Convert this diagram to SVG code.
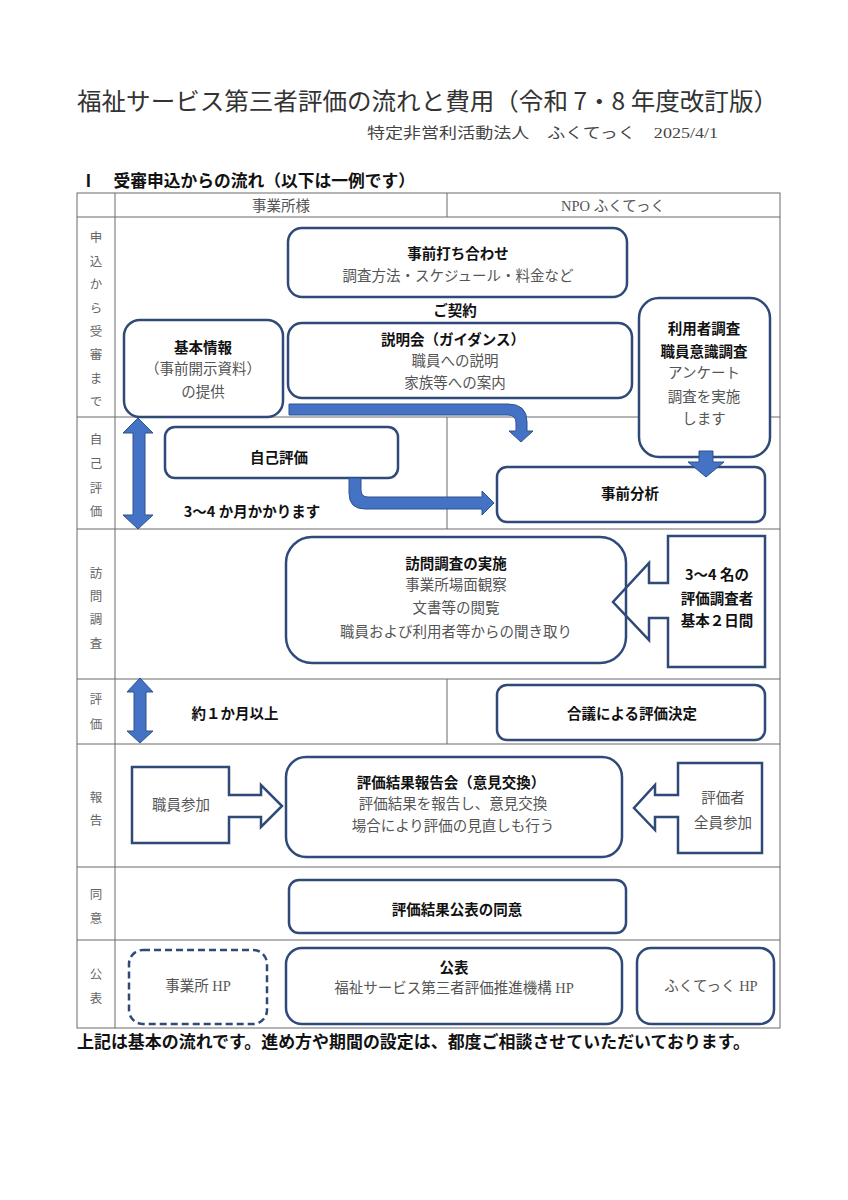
<svg xmlns="http://www.w3.org/2000/svg" width="848" height="1200" viewBox="0 0 848 1200">
<style>
.grid{stroke:#6b6b6b;stroke-width:1;fill:none}
.box{fill:#fff;stroke:#2f4a78;stroke-width:2.5}
.call{fill:none;stroke:#2f4a78;stroke-width:2.5}
.dash{fill:#fff;stroke:#2f4a78;stroke-width:2.5;stroke-dasharray:7 4}
.blk{fill:#4472c4;stroke:#2f528f;stroke-width:1}
.b{font-family:"Noto Sans CJK JP",sans-serif;font-weight:700;font-size:14.5px;fill:#111;text-anchor:middle;dominant-baseline:central}
.n{font-family:"Liberation Serif","Noto Sans CJK JP",serif;font-weight:400;font-size:14.5px;fill:#555;text-anchor:middle;dominant-baseline:central}
.v{font-family:"Noto Sans CJK JP",sans-serif;font-size:12.5px;fill:#666;text-anchor:middle;dominant-baseline:central}
</style>
<rect width="848" height="1200" fill="#fff"/>
<g id="title">
<text x="77" y="110" font-family="Noto Sans CJK JP,sans-serif" font-size="24" fill="#333" textLength="701" lengthAdjust="spacingAndGlyphs">福祉サービス第三者評価の流れと費用（令和 7・8 年度改訂版）</text>
<text x="367" y="138" font-family="Liberation Serif,Noto Sans CJK JP,serif" font-size="15" fill="#444" textLength="351" lengthAdjust="spacingAndGlyphs">特定非営利活動法人　ふくてっく　2025/4/1</text>
<text x="80" y="187" font-family="Noto Sans CJK JP,sans-serif" font-weight="700" font-size="16.5" fill="#111" textLength="335" lengthAdjust="spacingAndGlyphs">Ⅰ　受審申込からの流れ（以下は一例です）</text>
</g>
<g id="table">
<rect class="grid" x="77" y="193" width="703" height="835" stroke="#555"/>
<line class="grid" x1="115" y1="193" x2="115" y2="1028"/>
<line class="grid" x1="77" y1="217" x2="780" y2="217"/>
<line class="grid" x1="77" y1="417" x2="780" y2="417"/>
<line class="grid" x1="77" y1="529" x2="780" y2="529"/>
<line class="grid" x1="77" y1="679" x2="780" y2="679"/>
<line class="grid" x1="77" y1="744" x2="780" y2="744"/>
<line class="grid" x1="77" y1="867" x2="780" y2="867"/>
<line class="grid" x1="77" y1="940" x2="780" y2="940"/>
<line class="grid" x1="447" y1="193" x2="447" y2="217"/>
<line class="grid" x1="447" y1="417" x2="447" y2="529"/>
<line class="grid" x1="447" y1="679" x2="447" y2="744"/>
<text class="n" x="281" y="206" font-size="14">事業所様</text>
<text class="n" x="613" y="206" font-size="14">NPO ふくてっく</text>
<text class="v" x="96"><tspan x="96" y="236">申</tspan><tspan x="96" y="260">込</tspan><tspan x="96" y="283">か</tspan><tspan x="96" y="307">ら</tspan><tspan x="96" y="330">受</tspan><tspan x="96" y="353">審</tspan><tspan x="96" y="377">ま</tspan><tspan x="96" y="400">で</tspan></text>
<text class="v" x="96"><tspan x="96" y="438">自</tspan><tspan x="96" y="462">己</tspan><tspan x="96" y="487">評</tspan><tspan x="96" y="510">価</tspan></text>
<text class="v" x="96"><tspan x="96" y="572">訪</tspan><tspan x="96" y="595">問</tspan><tspan x="96" y="618">調</tspan><tspan x="96" y="642">査</tspan></text>
<text class="v" x="96"><tspan x="96" y="698">評</tspan><tspan x="96" y="723">価</tspan></text>
<text class="v" x="96"><tspan x="96" y="796">報</tspan><tspan x="96" y="819">告</tspan></text>
<text class="v" x="96"><tspan x="96" y="893">同</tspan><tspan x="96" y="917">意</tspan></text>
<text class="v" x="96"><tspan x="96" y="973">公</tspan><tspan x="96" y="997">表</tspan></text>
</g>
<g id="n-uchiawase">
<rect class="box" x="288" y="228" width="339" height="69" rx="14"/>
<text class="b" x="458" y="252">事前打ち合わせ</text>
<text class="n" x="458" y="276">調査方法・スケジュール・料金など</text>
</g>
<g id="n-keiyaku">
<text class="b" x="455" y="309">ご契約</text>
</g>
<g id="n-setsumeikai">
<rect class="box" x="288" y="323" width="344" height="75" rx="14"/>
<text class="b" x="453" y="338">説明会（ガイダンス）</text>
<text class="n" x="455" y="361">職員への説明</text>
<text class="n" x="455" y="383">家族等への案内</text>
</g>
<g id="n-kihon">
<rect class="box" x="124" y="320" width="159" height="97" rx="16"/>
<text class="b" x="203" y="346">基本情報</text>
<text class="n" x="203" y="369">（事前開示資料）</text>
<text class="n" x="203" y="392">の提供</text>
</g>
<g id="n-riyousha">
<rect class="box" x="639" y="298" width="131" height="159" rx="20"/>
<text class="b" x="704" y="327">利用者調査</text>
<text class="b" x="704" y="350">職員意識調査</text>
<text class="n" x="704" y="373">アンケート</text>
<text class="n" x="704" y="397">調査を実施</text>
<text class="n" x="704" y="419">します</text>
</g>
<g id="n-jiko">
<rect class="box" x="165" y="427" width="233" height="51" rx="10"/>
<text class="b" x="279" y="456">自己評価</text>
</g>
<g id="n-jizen">
<rect class="box" x="497" y="467" width="268" height="55" rx="10"/>
<text class="b" x="630" y="492">事前分析</text>
</g>
<g id="n-period1">
<text class="b" x="252" y="510">3〜4 か月かかります</text>
</g>
<g id="n-houmon">
<rect class="box" x="286" y="537" width="340" height="126" rx="26"/>
<text class="b" x="456" y="562">訪問調査の実施</text>
<text class="n" x="456" y="585">事業所場面観察</text>
<text class="n" x="456" y="608">文書等の閲覧</text>
<text class="n" x="456" y="632">職員および利用者等からの聞き取り</text>
</g>
<g id="n-chousasha">
<path class="call" d="M668,536 H765 V667 H668 V618 H649 V640 L613,602 L649,563 V583 H668 Z"/>
<text class="b" x="717" y="573">3〜4 名の</text>
<text class="b" x="717" y="597">評価調査者</text>
<text class="b" x="717" y="619">基本２日間</text>
</g>
<g id="n-period2">
<text class="b" x="235" y="712">約１か月以上</text>
</g>
<g id="n-gougi">
<rect class="box" x="497" y="685" width="268" height="55" rx="10"/>
<text class="b" x="632" y="712">合議による評価決定</text>
</g>
<g id="n-houkoku">
<rect class="box" x="286" y="757" width="336" height="100" rx="20"/>
<text class="b" x="451" y="781">評価結果報告会（意見交換）</text>
<text class="n" x="453" y="804">評価結果を報告し、意見交換</text>
<text class="n" x="453" y="826">場合により評価の見直しも行う</text>
</g>
<g id="n-shokuin">
<path class="call" d="M132,767 H229 V795 H261 V785 L282,806 L261,827 V817 H229 V843 H132 Z"/>
<text class="n" x="181" y="805">職員参加</text>
</g>
<g id="n-hyoukasha">
<path class="call" d="M678,763 H762 V853 H678 V817 H655 V830 L634,808 L655,785 V795 H678 Z"/>
<text class="n" x="723" y="798">評価者</text>
<text class="n" x="723" y="823">全員参加</text>
</g>
<g id="n-doui">
<rect class="box" x="289" y="880" width="337" height="53" rx="10"/>
<text class="b" x="457" y="908">評価結果公表の同意</text>
</g>
<g id="n-jigyousho-hp">
<rect class="dash" x="129" y="950" width="138" height="74" rx="14"/>
<text class="n" x="198" y="986">事業所 HP</text>
</g>
<g id="n-kouhyou">
<rect class="box" x="286" y="948" width="336" height="76" rx="16"/>
<text class="b" x="454" y="966">公表</text>
<text class="n" x="454" y="988">福祉サービス第三者評価推進機構 HP</text>
</g>
<g id="n-fukutekku-hp">
<rect class="box" x="637" y="948" width="137" height="76" rx="14"/>
<text class="n" x="711" y="986">ふくてっく HP</text>
</g>
<g id="connectors">
<path class="blk" d="M289,404 H508 Q527,404 527,422 V431 H533 L521,442 L509,431 H516 V423 Q516,415 508,415 H289 Z"/>
<path class="blk" d="M349,478 V493 Q349,509 365,509 H482 V515 L494,503 L482,491 V497 H368 Q361,497 361,490 V478 Z"/>
<path class="blk" d="M699,451 H713 V462 H724 L706,477 L688,462 H699 Z"/>
<path class="blk" d="M138,418 L153,433 H145 V515 H153 L138,529 L123,515 H133 V433 H123 Z"/>
<path class="blk" d="M140,678 L153,692 H146 V731 H153 L140,743 L127,731 H134 V692 H127 Z"/>
</g>
<g id="footer">
<text x="77" y="1048" font-family="Noto Sans CJK JP,sans-serif" font-weight="700" font-size="16.5" fill="#111" textLength="673" lengthAdjust="spacingAndGlyphs">上記は基本の流れです。進め方や期間の設定は、都度ご相談させていただいております。</text>
</g>
</svg>
